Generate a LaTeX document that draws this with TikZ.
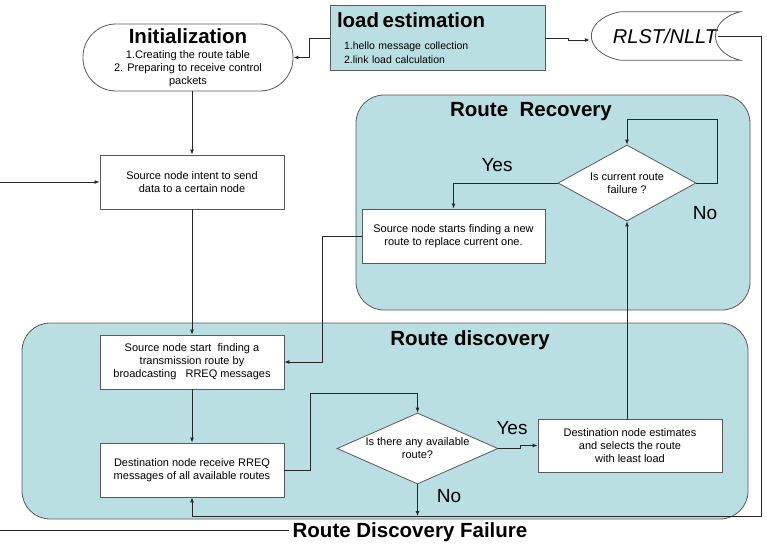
\documentclass[tikz,border=0pt]{standalone}
\usepackage{fontspec}
\setmainfont{Liberation Sans}
\usepackage{tikz}
\usetikzlibrary{arrows.meta}
\usetikzlibrary{positioning}
\usetikzlibrary{shapes.geometric}
\definecolor{zone}{RGB}{185,223,227}
\colorlet{edge}{black!85}
\colorlet{rim}{black!65}
\newcommand{\bigbold}{\fontsize{20.5}{23}\selectfont\bfseries}
\newcommand{\smalltxt}{\fontsize{11}{13}\selectfont}

\tikzset{
  proc/.style={draw=rim, fill=white, line width=0.8pt, minimum width=184pt,
    minimum height=54pt, align=center, font=\smalltxt, inner sep=2pt},
  startbox/.style={draw=rim, fill=white, line width=0.8pt, rounded corners=33pt,
    minimum width=210pt, minimum height=67pt, align=center, font=\smalltxt, inner sep=1pt},
  decide/.style={diamond, draw=rim, fill=white, line width=0.8pt, align=center,
    font=\smalltxt, inner sep=-1pt},
  zonebox/.style={draw=rim, fill=zone, line width=0.8pt, rounded corners=28pt},
  flow/.style={draw=edge, line width=0.9pt, -{Latex[length=5pt,width=4pt]}},
  line/.style={draw=edge, line width=0.9pt},
  answer/.style={font=\fontsize{19}{22}\selectfont},
}

\begin{document}
\begin{tikzpicture}[x=1pt,y=-1pt]
  \useasboundingbox (0,0) rectangle (767,543);

  % ---------- Regions ----------
  \node[zonebox, minimum width=394pt, minimum height=215pt] (recov) at (553,202.5) {};
  \node[zonebox, minimum width=726pt, minimum height=196pt] (disc) at (385,421) {};
  \node[font=\bigbold] (recovT) at (531,112) {Route\ \ Recovery};
  \node[font=\bigbold] (discT) at (470,340) {Route discovery};

  % ---------- Top row ----------
  \node[startbox] (init) at (188,57.5)
    {{\bigbold Initialization}\\[2pt] 1.Creating the route table\\
     2. Preparing to receive control\\ packets};
  \node[draw=rim, fill=zone, line width=0.8pt, minimum width=215pt, minimum height=65pt,
    text width=201pt, inner sep=7pt, align=left, font=\fontsize{10.5}{14}\selectfont]
    (load) at (437.5,38)
    {{\bigbold load estimation}\\[8pt] \hspace*{7pt}1.hello message collection\\
     \hspace*{7pt}2.link load calculation};
  \node[minimum width=150pt, minimum height=48pt, inner sep=0pt,
    font=\fontsize{20}{22}\selectfont\itshape] (rlst) at (665,36) {RLST/NLLT};
  \draw[draw=rim, line width=0.8pt] ([xshift=30pt]rlst.north west) -- (rlst.north east)
    .. controls ([xshift=-33pt,yshift=-8pt]rlst.north east) and ([xshift=-33pt,yshift=8pt]rlst.south east) .. (rlst.south east)
    -- ([xshift=30pt]rlst.south west)
    .. controls ([xshift=-8pt,yshift=8pt]rlst.south west) and ([xshift=-8pt,yshift=-8pt]rlst.north west) .. ([xshift=30pt]rlst.north west);

  % ---------- Boxes ----------
  \node[proc] (src) at (192,182) {Source node intent to send\\ data to a certain node};
  \node[proc, minimum width=183pt] (newrt) at (453.5,236)
    {Source node starts finding a new\\ route to replace current one.};
  \node[decide, aspect=1.82, minimum width=138pt, minimum height=76pt] (curfail) at (627,183)
    {Is current route\\ failure ?};
  \node[proc] (bcast) at (192,362)
    {Source node start\ \ finding a\\ transmission route by\\ broadcasting\ \ \ RREQ messages};
  \node[proc] (drecv) at (192,470)
    {Destination node receive RREQ\\ messages of all available routes};
  \node[decide, aspect=2.27, minimum width=161pt, minimum height=71pt] (avail) at (417.5,448.5)
    {Is there any available\\ route?};
  \node[proc, minimum height=53pt] (dsel) at (630,445.5)
    {Destination node estimates\\ and selects the route\\ with least load};

  % ---------- Labels ----------
  \node[answer] (yes1) at (497,165) {Yes};
  \node[answer] (no1) at (705,213) {No};
  \node[answer] (yes2) at (512,428) {Yes};
  \node[answer] (no2) at (449,496) {No};
  \node[font=\bigbold] (failT) at (410,532) {Route Discovery Failure};

  % ---------- Lines ----------
  \coordinate (inL) at (0,182);
  \coordinate (rc) at (761,516);
  \coordinate (failL) at (0,530);
  \draw[flow] (load.west) -- ++(-20,0) |- (init.east);
  \draw[flow] (load.east) -- ++(23,0) |- ([yshift=-4pt]rlst.west);
  \draw[flow] ([xshift=-22pt]rlst.east) -| (rc) -| (drecv.south);
  \draw[flow] (inL) -- (src.west);
  \draw[flow] (init.south -| src.north) -- (src.north);
  \draw[flow] (src.south) -- (bcast.north);
  \draw[flow] (bcast.south) -- (drecv.north);
  \draw[flow] (drecv.east) -- ++(26,0) |- ([yshift=19pt]avail.north) -- (avail.north);
  \draw[flow] (avail.east) -- ++(22,0) |- (dsel.west);
  \draw[flow] (avail.south) -- (avail.south |- rc);
  \draw[flow] (dsel.north -| curfail.south) -- (curfail.south);
  \draw[flow] (curfail.east) -- ++(21,0) |- ([yshift=25pt]curfail.north) -- (curfail.north);
  \draw[flow] (curfail.west) -| (newrt.north);
  \draw[flow] (newrt.west) -- ++(-39,0) |- (bcast.east);
  \draw[line] (failL) -- (failL -| failT.west);
\end{tikzpicture}
\end{document}
